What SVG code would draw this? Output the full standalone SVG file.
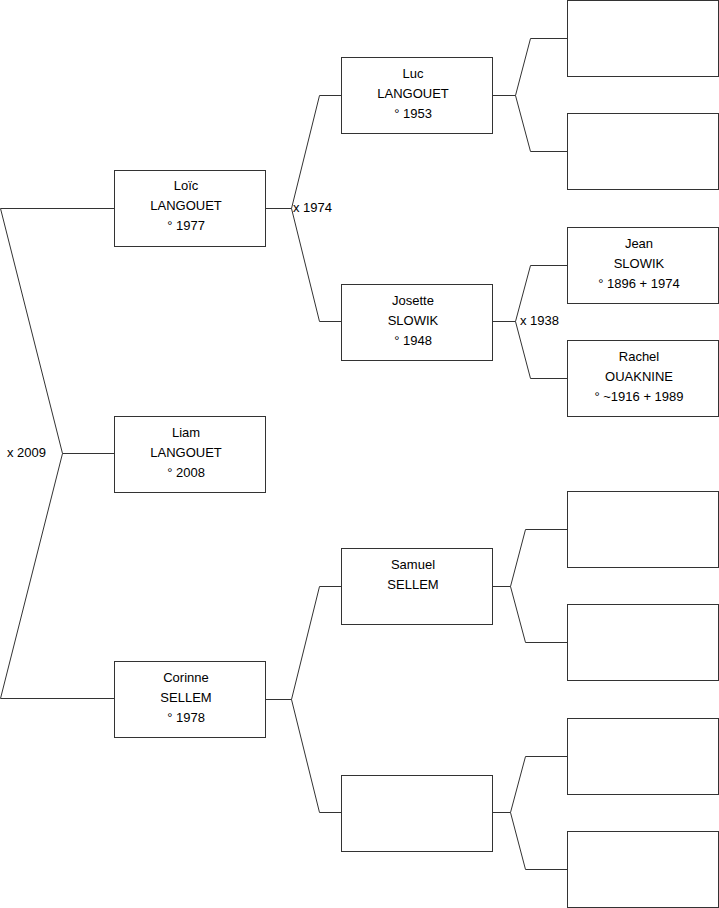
<svg xmlns="http://www.w3.org/2000/svg" width="719" height="908" viewBox="0 0 719 908">
<style>
.box{fill:#fff;stroke:#333;stroke-width:1}
.ln{fill:none;stroke:#333;stroke-width:1}
text{font-family:"Liberation Sans",Arial,sans-serif;font-size:13px;fill:#000}
.c{text-anchor:middle}
</style>
<rect width="719" height="908" fill="#fff"/>
<g id="connectors">
<path class="ln" d="M114.5,208.5 H0.5 L62.5,453.5 L0.5,698.5 H114.5 M62.5,453.5 H114.5"/>
<path class="ln" d="M265.5,208.5 H291.5 M341.5,95.5 H319.5 L291.5,208.5 L319.5,321.5 H341.5"/>
<path class="ln" d="M492.5,95.5 H515.5 M567.5,38.5 H530.5 L515.5,95.5 L530.5,151.5 H567.5"/>
<path class="ln" d="M492.5,321.5 H515.5 M567.5,265.5 H530.5 L515.5,321.5 L530.5,378.5 H567.5"/>
<path class="ln" d="M265.5,699.5 H291.5 M341.5,586.5 H319.5 L291.5,699.5 L319.5,812.5 H341.5"/>
<path class="ln" d="M492.5,586.5 H510.5 M567.5,529.5 H525.5 L510.5,586.5 L525.5,642.5 H567.5"/>
<path class="ln" d="M492.5,812.5 H510.5 M567.5,756.5 H525.5 L510.5,812.5 L525.5,869.5 H567.5"/>
<text x="7" y="457">x 2009</text>
<text x="293" y="212">x 1974</text>
<text x="520" y="325">x 1938</text>
</g>
<g id="loic"><rect class="box" x="114.5" y="170.5" width="151" height="76"/>
<text class="c" x="186" y="190">Loïc</text><text class="c" x="186" y="210">LANGOUET</text><text class="c" x="186" y="230">° 1977</text></g>
<g id="liam"><rect class="box" x="114.5" y="416.5" width="151" height="76"/>
<text class="c" x="186" y="437">Liam</text><text class="c" x="186" y="457">LANGOUET</text><text class="c" x="186" y="477">° 2008</text></g>
<g id="corinne"><rect class="box" x="114.5" y="661.5" width="151" height="76"/>
<text class="c" x="186" y="682">Corinne</text><text class="c" x="186" y="702">SELLEM</text><text class="c" x="186" y="722">° 1978</text></g>
<g id="luc"><rect class="box" x="341.5" y="57.5" width="151" height="76"/>
<text class="c" x="413" y="78">Luc</text><text class="c" x="413" y="98">LANGOUET</text><text class="c" x="413" y="118">° 1953</text></g>
<g id="josette"><rect class="box" x="341.5" y="284.5" width="151" height="76"/>
<text class="c" x="413" y="305">Josette</text><text class="c" x="413" y="325">SLOWIK</text><text class="c" x="413" y="345">° 1948</text></g>
<g id="samuel"><rect class="box" x="341.5" y="548.5" width="151" height="76"/>
<text class="c" x="413" y="569">Samuel</text><text class="c" x="413" y="589">SELLEM</text></g>
<g id="unknown2"><rect class="box" x="341.5" y="775.5" width="151" height="76"/></g>
<g id="ancestor1"><rect class="box" x="567.5" y="0.5" width="151" height="76"/></g>
<g id="ancestor2"><rect class="box" x="567.5" y="113.5" width="151" height="76"/></g>
<g id="jean"><rect class="box" x="567.5" y="227.5" width="151" height="76"/>
<text class="c" x="639" y="248">Jean</text><text class="c" x="639" y="268">SLOWIK</text><text class="c" x="639" y="288">° 1896 + 1974</text></g>
<g id="rachel"><rect class="box" x="567.5" y="340.5" width="151" height="76"/>
<text class="c" x="639" y="361">Rachel</text><text class="c" x="639" y="381">OUAKNINE</text><text class="c" x="639" y="401">° ~1916 + 1989</text></g>
<g id="ancestor5"><rect class="box" x="567.5" y="491.5" width="151" height="76"/></g>
<g id="ancestor6"><rect class="box" x="567.5" y="604.5" width="151" height="76"/></g>
<g id="ancestor7"><rect class="box" x="567.5" y="718.5" width="151" height="76"/></g>
<g id="ancestor8"><rect class="box" x="567.5" y="831.5" width="151" height="76"/></g>
</svg>
